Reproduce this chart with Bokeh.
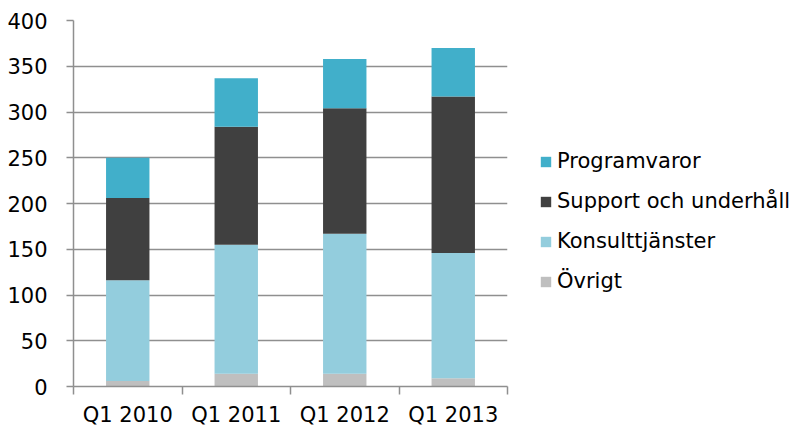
import numpy as np
from bokeh.plotting import figure
from bokeh.models import ColumnDataSource, Range1d, FixedTicker, Legend, LegendItem
from bokeh.embed import file_html
from bokeh.resources import INLINE

categories = ["Q1 2010", "Q1 2011", "Q1 2012", "Q1 2013"]
ovrigt = [6, 14, 14, 9]
konsult = [110, 141, 153, 137]
support = [90, 129, 137, 171]
program = [44, 53, 54, 53]
series = ["ovrigt", "konsult", "support", "program"]
labels = ["Övrigt", "Konsulttjänster", "Support och underhåll", "Programvaror"]
colors = ["#BFBFBF", "#93CDDD", "#404040", "#41AFCA"]
y_ticks = [0, 50, 100, 150, 200, 250, 300, 350, 400]

xs = np.arange(len(categories)) + 0.5
src = ColumnDataSource(dict(x=xs, ovrigt=ovrigt, konsult=konsult, support=support, program=program))

FONT = "DejaVu Sans"
FSIZE = "21px"
GRAY = "#8f8f8f"

p = figure(frame_width=434, frame_height=366, output_backend="svg", toolbar_location=None,
           x_range=Range1d(0, len(categories)), y_range=Range1d(0, 400),
           min_border_left=73, min_border_right=298, min_border_top=20, min_border_bottom=37)
p.outline_line_color = None
p.background_fill_color = "white"

renderers = p.vbar_stack(series, x="x", width=0.4, source=src, color=colors, line_color=None)

# axes
p.xaxis.ticker = FixedTicker(ticks=list(xs), minor_ticks=list(range(len(categories) + 1)))
p.xaxis.major_label_overrides = {float(x): c for x, c in zip(xs, categories)}
p.xaxis.major_tick_out = 0
p.xaxis.major_tick_in = 0
p.xaxis.minor_tick_out = 8
p.xaxis.minor_tick_in = 0
p.xaxis.minor_tick_line_color = GRAY
p.xaxis.minor_tick_line_width = 1.5
p.xaxis.axis_line_color = GRAY
p.xaxis.axis_line_width = 1.5
p.xaxis.major_label_standoff = 8
p.xgrid.grid_line_color = None

p.yaxis.ticker = FixedTicker(ticks=y_ticks)
p.yaxis.major_tick_out = 7
p.yaxis.major_tick_in = 0
p.yaxis.minor_tick_line_color = None
p.yaxis.major_tick_line_color = GRAY
p.yaxis.major_tick_line_width = 1.5
p.yaxis.axis_line_color = GRAY
p.yaxis.axis_line_width = 1.5
p.yaxis.major_label_standoff = 19
p.ygrid.grid_line_color = GRAY
p.ygrid.grid_line_width = 1.5

for ax in (p.xaxis, p.yaxis):
    ax.major_label_text_font = FONT
    ax.major_label_text_font_size = FSIZE
    ax.major_label_text_color = "#000000"

items = [LegendItem(label=lab, renderers=[r]) for lab, r in zip(labels, renderers)][::-1]
legend = Legend(items=items, location=(32, 92), orientation="vertical",
                label_text_font=FONT, label_text_font_size=FSIZE, label_text_color="#000000",
                glyph_width=13, glyph_height=13, label_height=26, spacing=14,
                label_standoff=5, padding=0, margin=0, border_line_color=None,
                background_fill_alpha=0)
p.add_layout(legend, "right")

open("out.html", "w").write(file_html(p, INLINE))
